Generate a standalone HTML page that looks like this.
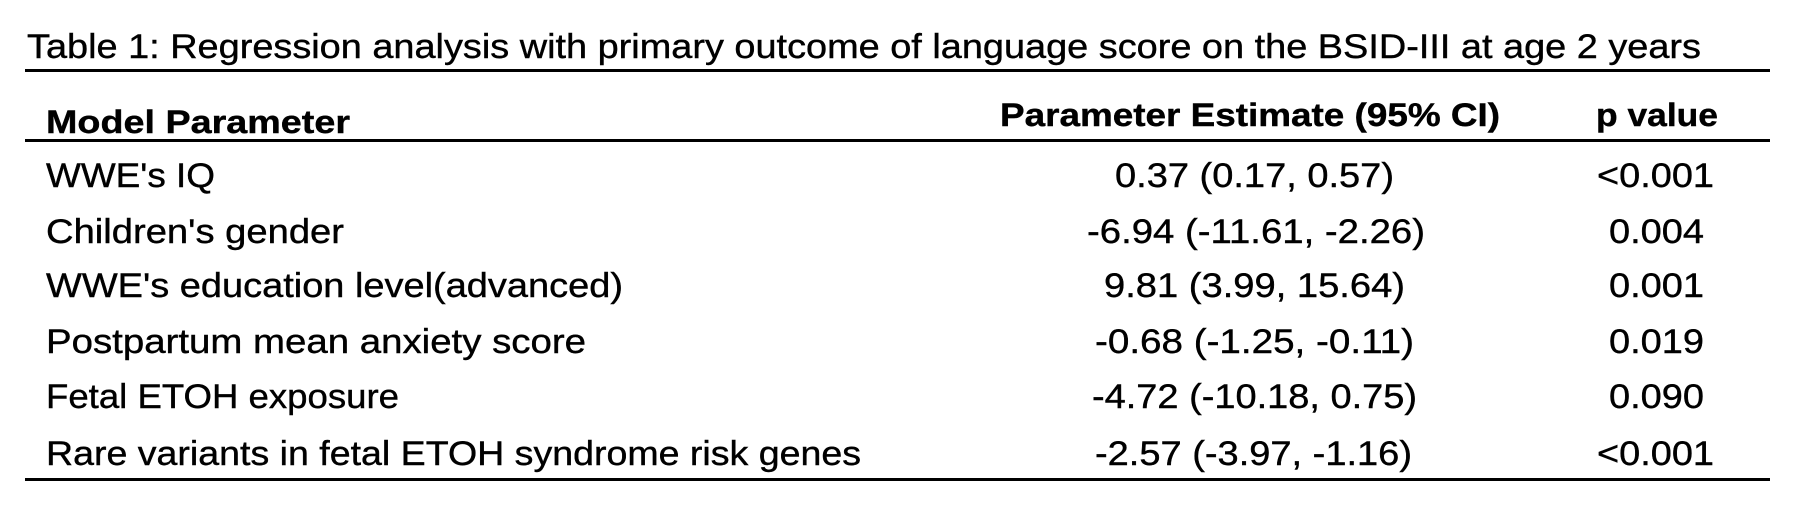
<!DOCTYPE html>
<html><head><meta charset="utf-8"><style>
html,body{margin:0;padding:0;background:#fff;}
svg{display:block;}
text{font-family:"Liberation Sans",sans-serif;font-size:34px;fill:#000;stroke:#000;stroke-width:0.4px;}
.b{font-weight:bold;font-size:32px;}
</style></head><body>
<svg width="1796" height="512" viewBox="0 0 1796 512">
<text x="27" y="58" textLength="1674" lengthAdjust="spacingAndGlyphs">Table 1: Regression analysis with primary outcome of language score on the BSID-III at age 2 years</text>
<rect x="25" y="69" width="1745" height="3" fill="#000"/>
<text class="b" x="46" y="133" textLength="304" lengthAdjust="spacingAndGlyphs">Model Parameter</text>
<text class="b" x="1000" y="126" textLength="500" lengthAdjust="spacingAndGlyphs">Parameter Estimate (95% CI)</text>
<text class="b" x="1596" y="126" textLength="122" lengthAdjust="spacingAndGlyphs">p value</text>
<rect x="25" y="139" width="1745" height="3" fill="#000"/>
<text x="46" y="187" textLength="169" lengthAdjust="spacingAndGlyphs">WWE's IQ</text>
<text x="1115" y="187" textLength="279" lengthAdjust="spacingAndGlyphs">0.37 (0.17, 0.57)</text>
<text x="1597" y="187" textLength="117" lengthAdjust="spacingAndGlyphs">&lt;0.001</text>
<text x="46" y="243" textLength="298" lengthAdjust="spacingAndGlyphs">Children's gender</text>
<text x="1087" y="243" textLength="338" lengthAdjust="spacingAndGlyphs">-6.94 (-11.61, -2.26)</text>
<text x="1609" y="243" textLength="95" lengthAdjust="spacingAndGlyphs">0.004</text>
<text x="46" y="297" textLength="577" lengthAdjust="spacingAndGlyphs">WWE's education level(advanced)</text>
<text x="1104" y="297" textLength="301" lengthAdjust="spacingAndGlyphs">9.81 (3.99, 15.64)</text>
<text x="1609" y="297" textLength="95" lengthAdjust="spacingAndGlyphs">0.001</text>
<text x="46" y="353" textLength="540" lengthAdjust="spacingAndGlyphs">Postpartum mean anxiety score</text>
<text x="1095" y="353" textLength="319" lengthAdjust="spacingAndGlyphs">-0.68 (-1.25, -0.11)</text>
<text x="1609" y="353" textLength="95" lengthAdjust="spacingAndGlyphs">0.019</text>
<text x="46" y="408" textLength="353" lengthAdjust="spacingAndGlyphs">Fetal ETOH exposure</text>
<text x="1092" y="408" textLength="325" lengthAdjust="spacingAndGlyphs">-4.72 (-10.18, 0.75)</text>
<text x="1609" y="408" textLength="95" lengthAdjust="spacingAndGlyphs">0.090</text>
<text x="46" y="465" textLength="815" lengthAdjust="spacingAndGlyphs">Rare variants in fetal ETOH syndrome risk genes</text>
<text x="1095" y="465" textLength="317" lengthAdjust="spacingAndGlyphs">-2.57 (-3.97, -1.16)</text>
<text x="1597" y="465" textLength="117" lengthAdjust="spacingAndGlyphs">&lt;0.001</text>
<rect x="25" y="478" width="1745" height="3" fill="#000"/>
</svg>
</body></html>
